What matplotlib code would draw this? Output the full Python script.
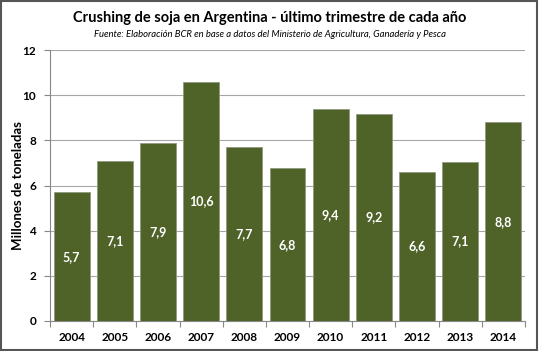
import matplotlib
matplotlib.use("Agg")
import matplotlib.pyplot as plt
from matplotlib.patches import Rectangle
import numpy as np

years = ['2004', '2005', '2006', '2007', '2008', '2009', '2010', '2011', '2012', '2013', '2014']
crushing = [5.7, 7.1, 7.9, 10.6, 7.7, 6.76, 9.4, 9.16, 6.6, 7.06, 8.8]
yticks = [0, 2, 4, 6, 8, 10, 12]

plt.rcParams['font.family'] = ['Lato', 'DejaVu Sans']

fig = plt.figure(figsize=(5.39, 3.51), dpi=100)
ax = fig.add_axes([0.0928, 0.0855, 0.881, 0.772])

x = np.arange(len(years))
bars = ax.bar(x, crushing, width=0.83, color='#4F6228', edgecolor='#8f9a80',
              linewidth=0.6, zorder=3)

for xi, v in zip(x, crushing):
    ax.text(xi, v / 2, f"{v:.1f}".replace('.', ','), ha='center', va='center',
            color='white', fontsize=9, fontweight='bold', zorder=4)

ax.set_xlim(-0.5, len(years) - 0.5)
ax.set_ylim(0, 12)
ax.set_yticks(yticks)
ax.set_yticklabels([str(t) for t in yticks], fontsize=8.5, fontweight='bold')
ax.set_xticks(x)
ax.set_xticklabels(years, fontsize=8.5, fontweight='bold')
ax.set_xticks(np.arange(-0.5, len(years)), minor=True)
ax.tick_params(axis='x', which='major', length=0, pad=8)
ax.tick_params(axis='x', which='minor', length=4, color='#888888', width=0.8)
ax.tick_params(axis='y', length=4, color='#888888', width=0.8, pad=6)
ax.grid(axis='y', color='#a6a6a6', linewidth=0.8, zorder=0)
for s in ['top', 'right']:
    ax.spines[s].set_visible(False)
for s in ['left', 'bottom']:
    ax.spines[s].set_color('#888888')
    ax.spines[s].set_linewidth(0.8)

ax.set_ylabel('Millones de toneladas', fontsize=9.5, fontweight='bold')
ax.yaxis.set_label_coords(-0.055, 0.5)

fig.text(0.5, 0.950, 'Crushing de soja en Argentina - último trimestre de cada año',
         ha='center', va='center', fontsize=10.5, fontweight='bold')
fig.text(0.5, 0.902, 'Fuente: Elaboración BCR en base a datos del Ministerio de Agricultura, Ganadería y Pesca',
         ha='center', va='center', fontsize=6.8, style='italic')

fig.patches.append(Rectangle((0.002, 0.003), 0.995, 0.994, transform=fig.transFigure,
                             fill=False, edgecolor='#555555', linewidth=1.5))

fig.savefig('out.png', dpi=100)
